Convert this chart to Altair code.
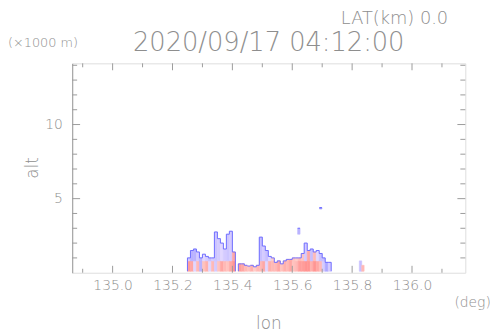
import altair as alt
import pandas as pd

# ---- data ----
col_lon = [135.255, 135.265, 135.275, 135.285, 135.295, 135.305, 135.315, 135.325,
           135.335, 135.345, 135.355, 135.365, 135.375, 135.385, 135.395, 135.405,
           135.415, 135.425, 135.435, 135.445, 135.455, 135.465, 135.475, 135.485,
           135.495, 135.505, 135.515, 135.525, 135.535, 135.545, 135.555, 135.565,
           135.575, 135.585, 135.595, 135.605, 135.615, 135.625, 135.635, 135.645,
           135.655, 135.665, 135.675, 135.685, 135.695, 135.705, 135.715, 135.725]
col_top = [1.0, 1.5, 1.6, 1.4, 1.0, 1.25, 1.1, 1.0,
           1.0, 2.75, 2.3, 2.0, 1.6, 2.6, 2.8, 1.4,
           0.0, 0.6, 0.6, 0.5, 0.45, 0.5, 0.4, 0.5,
           2.4, 1.8, 1.5, 1.1, 1.0, 0.7, 0.8, 0.6,
           0.8, 0.9, 0.9, 1.0, 1.0, 1.0, 1.3, 2.0,
           1.5, 1.6, 1.4, 1.5, 1.3, 1.0, 0.7, 0.7]
col_low = [0.6, 0.5, -0.2, 0.3, -0.5, 0.2, 0.4, -0.2,
           0.3, -0.3, 0.2, 0.5, 0.3, 0.2, 0.5, 0.7,
           0.0, 0.6, 0.5, 0.3, 0.2, 0.4, 0.1, 0.3,
           0.3, 0.5, -0.2, 0.4, 0.3, 0.3, 0.5, 0.2,
           0.4, 0.3, 0.5, 0.2, 0.3, 0.6, 0.6, 0.7,
           0.7, 0.4, 0.7, 0.5, 0.3, -0.3, -0.6, -0.3]
col_high = [-0.3, -0.5, -0.5, -0.3, -0.5, -0.2, -0.3, -0.4,
            -0.3, -0.35, -0.3, -0.2, -0.3, -0.35, -0.3, 0.5,
            0.0, 0.6, 0.5, 0.3, 0.2, 0.4, 0.1, 0.3,
            -0.4, -0.3, -0.4, -0.2, 0.1, 0.3, 0.5, 0.2,
            0.4, 0.3, 0.5, 0.2, 0.1, 0.3, 0.2, -0.3,
            0.5, -0.4, 0.3, -0.2, -0.4, -0.4, -0.6, -0.3]

# isolated echoes: lon, bottom, top, value
iso_lon = [135.622, 135.695, 135.828, 135.836]
iso_bot = [2.6, 4.3, 0.1, 0.1]
iso_top = [3.0, 4.4, 0.8, 0.5]
iso_val = [-0.5, -0.8, -0.4, 0.3]

x_major = [135.0, 135.2, 135.4, 135.6, 135.8, 136.0]
x_minor = [134.9, 135.1, 135.3, 135.5, 135.7, 135.9, 136.1]
y_major = [5, 10]
y_minor = [1, 2, 3, 4, 6, 7, 8, 9, 11, 12, 13, 14]

title_txt = "2020/09/17 04:12:00"
lat_txt = "LAT(km) 0.0"
unit_y = "(\u00d71000 m)"
unit_x = "(deg)"
xlab = "lon"
ylab = "alt"

# ---- build tables ----
CW = 0.005
SPLIT = 0.8
cells = []
for lon, top, lo, hi in zip(col_lon, col_top, col_low, col_high):
    if top <= 0:
        continue
    cells.append({"x": lon - CW, "x2": lon + CW, "y": 0.1, "y2": min(top, SPLIT), "v": lo})
    if top > SPLIT:
        cells.append({"x": lon - CW, "x2": lon + CW, "y": SPLIT, "y2": top, "v": hi})
for lon, b, t, v in zip(iso_lon, iso_bot, iso_top, iso_val):
    cells.append({"x": lon - 0.004, "x2": lon + 0.004, "y": b, "y2": t, "v": v})
cells = pd.DataFrame(cells)

edges = []
for i, (lon, top) in enumerate(zip(col_lon, col_top)):
    if top > 0:
        edges.append({"x": lon - CW, "x2": lon + CW, "y": top, "y2": top})
    prev = col_top[i - 1] if i > 0 else 0.0
    if abs(prev - top) > 0.05:
        edges.append({"x": lon - CW, "x2": lon - CW, "y": max(min(prev, top), 0.1), "y2": max(prev, top)})
edges.append({"x": col_lon[-1] + CW, "x2": col_lon[-1] + CW, "y": 0.1, "y2": col_top[-1]})
for lon, b, t in zip(iso_lon[:2], iso_bot[:2], iso_top[:2]):
    edges.append({"x": lon - 0.004, "x2": lon + 0.004, "y": t, "y2": t})
edges = pd.DataFrame(edges)

W, H = 398, 212
XD = [134.865, 136.178]
YD = [0, 14.13]
GREY = "#8e8e8e"
FONT = "DejaVu Sans"
FW = 200

xs = alt.Scale(domain=XD, nice=False, zero=False)
ys = alt.Scale(domain=YD, nice=False, zero=False)

cscale = alt.Scale(domain=[-1, 0, 1], range=["#7a7aff", "#ffffff", "#ff7a7a"])

heat = alt.Chart(cells).mark_rect(strokeWidth=0.6).encode(
    x=alt.X("x:Q", scale=xs, axis=alt.Axis(values=x_major, format=".1f", ticks=False, domain=False,
                                            grid=False, labelColor=GREY, labelFontSize=14, labelFont=FONT,
                                            labelFontWeight=FW, labelPadding=6, title=None)),
    x2="x2:Q",
    y=alt.Y("y:Q", scale=ys, axis=alt.Axis(values=y_major, ticks=False, domain=True, domainColor="#9a9a9a",
                                            grid=False, labelColor=GREY, labelFontSize=14, labelFont=FONT,
                                            labelFontWeight=FW, labelPadding=10, title=None)),
    y2="y2:Q",
    color=alt.Color("v:Q", scale=cscale, legend=None),
    stroke=alt.Stroke("v:Q", scale=cscale, legend=None),
)

outline = alt.Chart(edges).mark_rule(color="#7070ff", strokeWidth=1).encode(
    x=alt.X("x:Q", scale=xs), x2="x2:Q", y=alt.Y("y:Q", scale=ys), y2="y2:Q"
)

tick_col = "#9a9a9a"
xmaj_df = pd.DataFrame({"t": x_major})
xmin_df = pd.DataFrame({"t": x_minor})
ymaj_df = pd.DataFrame({"t": y_major})
ymin_df = pd.DataFrame({"t": y_minor})


def xt(df, ln):
    b = alt.Chart(df).mark_rule(color=tick_col, strokeWidth=1)
    return (b.encode(x=alt.X("t:Q", scale=xs), y=alt.value(H), y2=alt.value(H - ln)) +
            b.encode(x=alt.X("t:Q", scale=xs), y=alt.value(0), y2=alt.value(ln)))


def yt(df, ln):
    b = alt.Chart(df).mark_rule(color=tick_col, strokeWidth=1)
    return (b.encode(y=alt.Y("t:Q", scale=ys), x=alt.value(0), x2=alt.value(ln)) +
            b.encode(y=alt.Y("t:Q", scale=ys), x=alt.value(W), x2=alt.value(W - ln)))


def txt(s, x, y, size, align="center", angle=0):
    return alt.Chart(pd.DataFrame({"s": [s]})).mark_text(
        fontSize=size, font=FONT, fontWeight=FW, color=GREY, align=align, baseline="middle", angle=angle
    ).encode(text="s:N", x=alt.value(x), y=alt.value(y))


chart = alt.layer(
    heat, outline,
    xt(xmaj_df, 7), xt(xmin_df, 4), yt(ymaj_df, 8), yt(ymin_df, 5),
    txt(title_txt, 199, -20, 26),
    txt(lat_txt, 272, -45, 18, align="left"),
    txt(unit_y, -65, -21, 13, align="left"),
    txt(unit_x, 387, 243, 14, align="left"),
    txt(xlab, 199, 264, 17),
    txt(ylab, -40, 106, 17, angle=270),
).properties(
    width=W, height=H,
    autosize=alt.AutoSizeParams(type="none"),
    padding={"left": 65, "top": 54, "right": 25, "bottom": 60},
).configure_view(stroke="#c8c8c8", strokeWidth=2).configure(background="white")

chart.save("out.html", embed_options={"renderer": "svg", "actions": False})
